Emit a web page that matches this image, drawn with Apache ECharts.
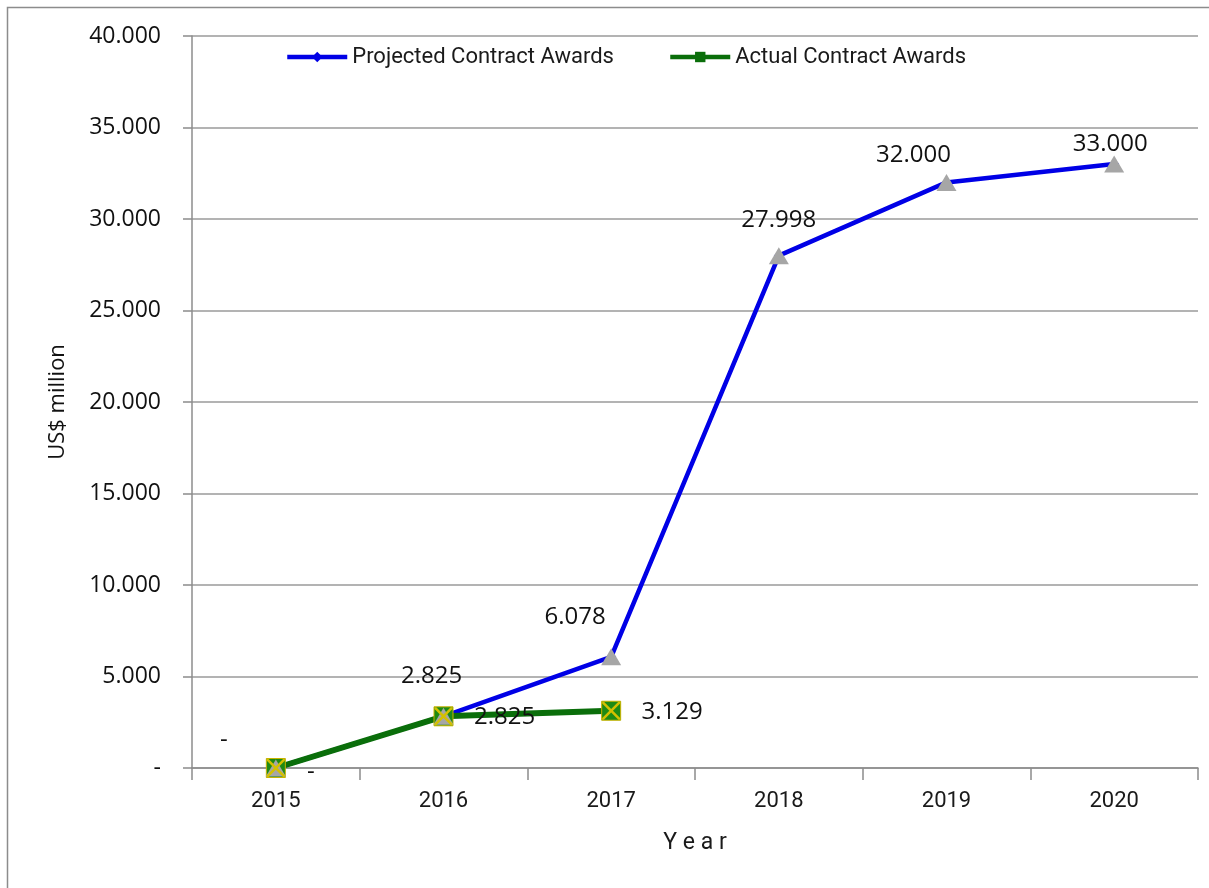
<!DOCTYPE html>
<html>
<head>
<meta charset="utf-8">
<script src="https://cdn.jsdelivr.net/npm/echarts@6/dist/echarts.min.js"></script>
<style>
html,body{margin:0;padding:0;background:#fff;}
#chart{width:1209px;height:888px;}
</style>
</head>
<body>
<div id="chart"></div>
<script>
// ---- data ----
const years = ['2015', '2016', '2017', '2018', '2019', '2020'];
const projected = [0, 2825, 6078, 27998, 32000, 33000];
const actual = [0, 2825, 3129];
const yTicks = { min: 0, max: 40000, step: 5000 };
const seriesNames = ['Projected Contract Awards', 'Actual Contract Awards'];

// ---- label placement (style, not data) ----
const projLabelOffsets = [[-52, -28], [-12, -40], [-36, -40], [0, -35], [-33, -27], [-4, -20]];
const actLabelOffsets = [[35, 4], [61, 1], [61, 1]];

function fmt(v) {
  if (v === 0) return '-';
  return String(Math.round(v)).replace(/\B(?=(\d{3})+(?!\d))/g, '.');
}

const xPath = 'path://M0,0L2,0L10,8L18,0L20,0L20,2L12,10L20,18L20,20L18,20L10,12L2,20L0,20L0,18L8,10L0,2Z';

const chart = echarts.init(document.getElementById('chart'), null, { renderer: 'canvas' });

const labelFont = { fontFamily: 'Open Sans', fontSize: 24, color: '#111', textBorderWidth: 0, opacity: 1 };
const legendText = { fontFamily: 'Roboto', fontSize: 22, color: '#1a1a1a' };

chart.setOption({
  animation: false,
  backgroundColor: '#fff',
  graphic: [{
    type: 'rect',
    shape: { x: 7.5, y: 7.5, width: 1400, height: 1000 },
    style: { fill: 'none', stroke: '#8c8c8c', lineWidth: 1.5 },
    silent: true
  }],
  legend: [{
    data: [{ name: seriesNames[0], lineStyle: { width: 4.5 }, itemStyle: { color: '#0000e6' } }],
    left: 280, top: 41,
    itemWidth: 60, itemHeight: 13, itemGap: 5,
    textStyle: legendText
  }, {
    data: [{ name: seriesNames[1], lineStyle: { width: 4.5 }, itemStyle: { color: '#0a6e0a', borderWidth: 0 } }],
    left: 663, top: 41,
    itemWidth: 60, itemHeight: 13, itemGap: 5,
    textStyle: legendText
  }],
  grid: { left: 192, right: 11, top: 36, bottom: 120, containLabel: false },
  xAxis: {
    type: 'category',
    data: years,
    boundaryGap: true,
    name: 'Y e a r',
    nameLocation: 'middle',
    nameGap: 64,
    nameTextStyle: { fontFamily: 'Roboto', fontSize: 23, color: '#1a1a1a' },
    axisLine: { lineStyle: { color: '#8c8c8c', width: 1.5 } },
    axisTick: { show: true, length: 12, lineStyle: { color: '#8c8c8c', width: 1.5 } },
    axisLabel: { margin: 22, fontFamily: 'Roboto', fontSize: 22, color: '#1a1a1a' },
    splitLine: { show: false }
  },
  yAxis: {
    type: 'value',
    min: yTicks.min, max: yTicks.max, interval: yTicks.step,
    name: 'US$ million',
    nameLocation: 'middle',
    nameGap: 123,
    nameRotate: 90,
    nameTextStyle: { fontFamily: 'Open Sans', fontSize: 22, color: '#111' },
    axisLine: { show: true, lineStyle: { color: '#8c8c8c', width: 1.5 } },
    axisTick: { show: true, length: 9, lineStyle: { color: '#8c8c8c', width: 1.5 } },
    axisLabel: { margin: 31, fontFamily: 'Open Sans', fontSize: 23, color: '#111', formatter: fmt },
    splitLine: { show: true, lineStyle: { color: '#9a9a9a', width: 1.5 } }
  },
  series: [
    {
      name: seriesNames[0],
      type: 'line',
      data: projected,
      z: 2,
      symbol: 'diamond',
      symbolSize: 10,
      itemStyle: { color: '#0000e6' },
      lineStyle: { color: '#0000e6', width: 4.5 },
      emphasis: { disabled: true }
    },
    {
      name: seriesNames[1],
      type: 'line',
      data: actual,
      z: 3,
      symbol: 'rect',
      symbolSize: 19,
      itemStyle: { color: '#1e8a14', borderColor: '#c8b400', borderWidth: 1 },
      lineStyle: { color: '#0a6e0a', width: 6 },
      emphasis: { disabled: true }
    },
    {
      type: 'scatter',
      data: projected.map((v, i) => ({
        value: [years[i], v],
        label: { offset: projLabelOffsets[i] }
      })),
      z: 4,
      symbol: 'triangle',
      symbolSize: [20, 17],
      itemStyle: { color: '#a6a6a6', opacity: 1 },
      label: Object.assign({ show: true, position: 'inside', formatter: p => fmt(p.value[1]) }, labelFont),
      emphasis: { disabled: true },
      silent: true
    },
    {
      type: 'scatter',
      data: actual.map((v, i) => ({
        value: [years[i], v],
        label: { offset: actLabelOffsets[i] }
      })),
      z: 5,
      symbol: xPath,
      symbolSize: 18,
      itemStyle: { color: '#d4c000', opacity: 1 },
      label: Object.assign({ show: true, position: 'inside', formatter: p => fmt(p.value[1]) }, labelFont),
      emphasis: { disabled: true },
      silent: true
    }
  ]
});
</script>
</body>
</html>
